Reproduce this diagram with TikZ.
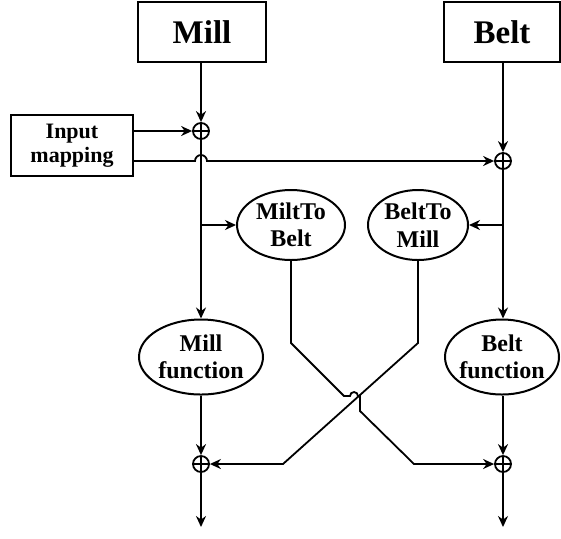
\documentclass[tikz,border=0pt]{standalone}
\usepackage{fontspec}
\setmainfont{Liberation Serif}
\usetikzlibrary{arrows.meta}
\usetikzlibrary{shapes.geometric}

\begin{document}
\begin{tikzpicture}[x=0.5pt, y=-0.5pt, line width=0.9pt,
        arr/.style={-{Stealth[length=5.5pt, width=5pt]}},
        blockbox/.style={draw, line width=1.1pt, inner sep=0pt, minimum height=30pt, font=\bfseries\fontsize{16.5}{18}\selectfont},
        smallbox/.style={draw, line width=1.1pt, inner sep=0pt, align=center, font=\bfseries\fontsize{11}{12.2}\selectfont},
        fnoval/.style={draw, ellipse, line width=1pt, inner sep=0pt, inner xsep=-3pt, align=center, font=\bfseries\fontsize{12}{13.7}\selectfont},
        sumnode/.style={draw, circle, line width=0.9pt, inner sep=0pt, minimum size=8pt,
            path picture={\draw[line width=0.8pt] (path picture bounding box.north) -- (path picture bounding box.south)
                (path picture bounding box.west) -- (path picture bounding box.east);}}]
        \useasboundingbox (0,0) rectangle (561,538);
        % blocks
        \node[blockbox, minimum width=64pt] (mill) at (202,32) {Mill};
        \node[blockbox, minimum width=58pt] (belt) at (502,32) {Belt};
        \node[smallbox, minimum width=61pt, minimum height=30.5pt] (inp) at (72,145.5) {Input\\mapping};
        \node[fnoval, minimum width=54pt, minimum height=35pt] (m2b) at (291,225) {MiltTo\\Belt};
        \node[fnoval, minimum width=50pt, minimum height=35pt] (b2m) at (418,225) {BeltTo\\Mill};
        \node[fnoval, minimum width=62pt, minimum height=37.5pt] (millf) at (201,357) {Mill\\function};
        \node[fnoval, minimum width=57pt, minimum height=37.5pt] (beltf) at (502,357) {Belt\\function};
        % sums
        \node[sumnode] (msum) at (201,131) {};
        \node[sumnode] (bsum) at (503,161) {};
        \node[sumnode] (msumb) at (201,464) {};
        \node[sumnode] (bsumb) at (503,464) {};
        \coordinate (mout) at (201,527);
        \coordinate (bout) at (503,527);
        \coordinate (mbr) at (201,225);
        \coordinate (bbr) at (503,225);
        % mill column
        \draw[arr] (mill.south -| msum) -- (msum);
        \draw[arr] (msum) -- (millf.north);
        \draw[arr] (mbr) -- (m2b.west);
        \draw[arr] (millf) -- (msumb);
        \draw[arr] (msumb) -- (mout);
        % belt column
        \draw[arr] (belt.south -| bsum) -- (bsum);
        \draw[arr] (bsum) -- (bsum |- beltf.north);
        \draw[arr] (bbr) -- (b2m.east);
        \draw[arr] (bsum |- beltf.south) -- (bsumb);
        \draw[arr] (bsumb) -- (bout);
        % input mapping
        \draw[arr] (inp.east |- msum) -- (msum);
        \draw[arr] (inp.east |- bsum) -- (195,161) arc (180:360:6) -- (bsum);
        % cross coupling
        \draw[arr] (m2b.south) -- (291,343) -- (344,396) -- (350,396) arc (180:360:4) -- (360,396) -- (360,411) -- (414,464) -- (bsumb);
        \draw[arr] (b2m.south) -- (418,343) -- (283,464) -- (msumb);
\end{tikzpicture}
\end{document}
